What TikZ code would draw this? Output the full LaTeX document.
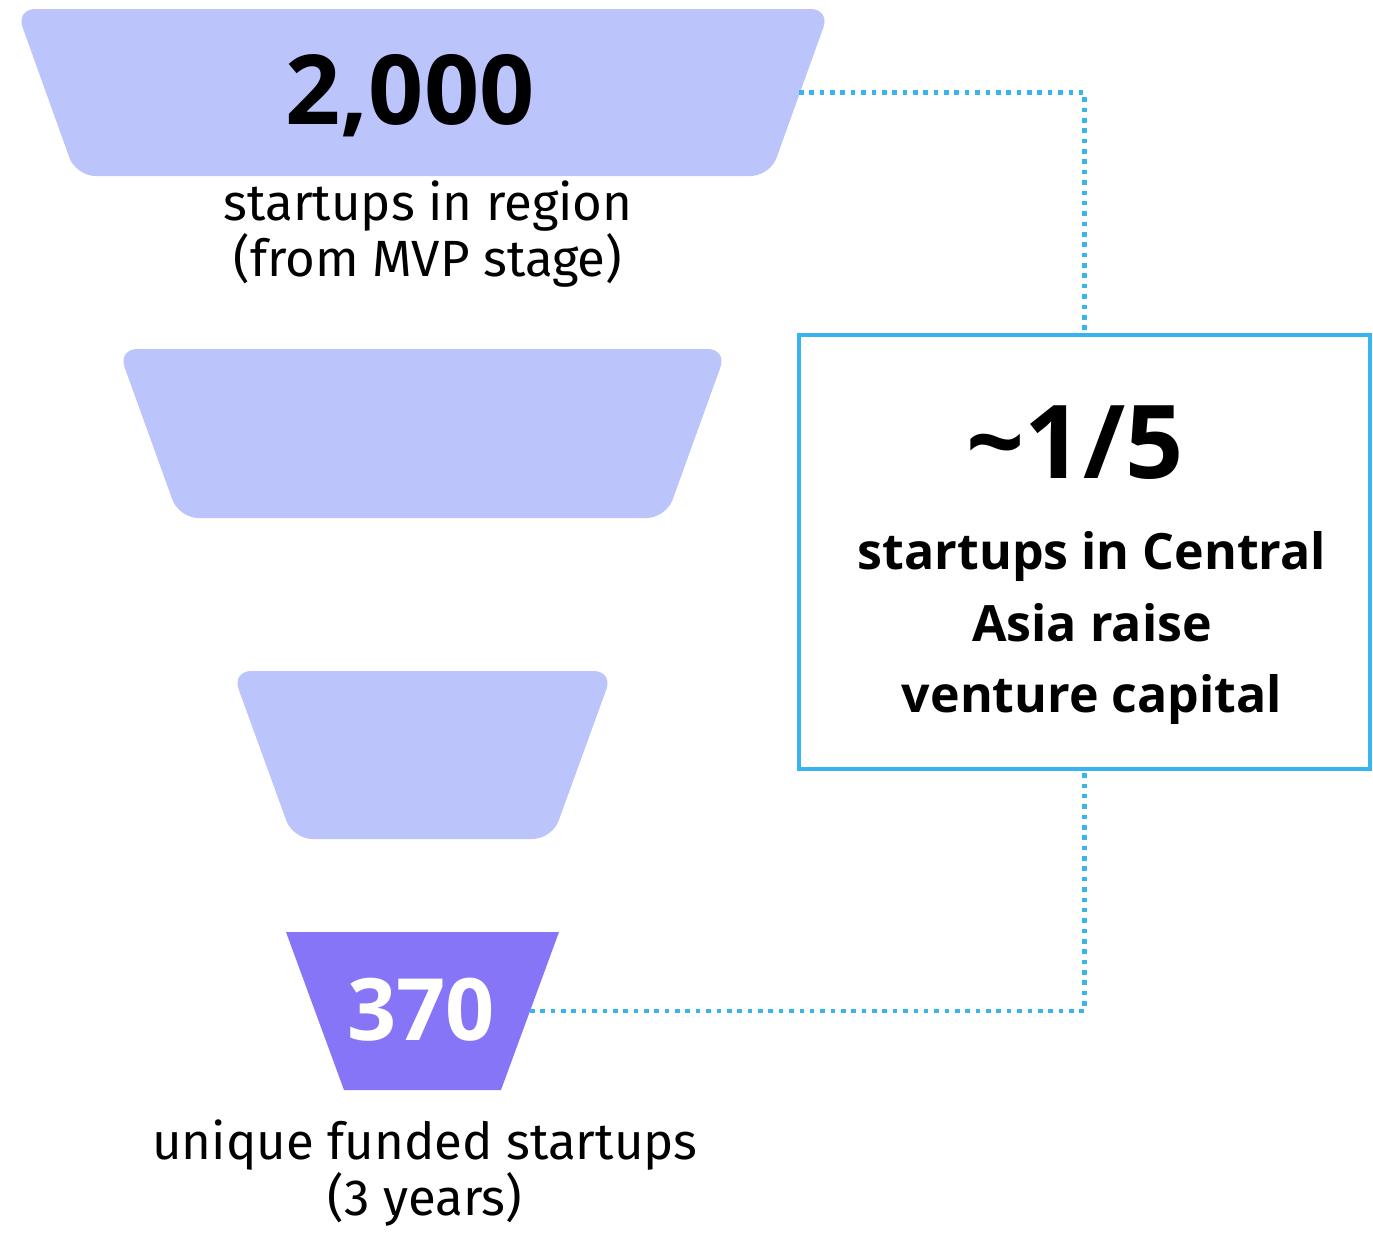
\documentclass[tikz,border=0pt]{standalone}
\usepackage{fontspec}
\setmainfont{Open Sans}
\newfontfamily\labelfont{Fira Sans}
\usetikzlibrary{positioning}
\definecolor{funnellight}{RGB}{187,196,251}
\definecolor{funneldark}{RGB}{134,118,247}
\definecolor{linkblue}{RGB}{58,180,238}
\tikzset{
  funnel/.style={fill=funnellight,rounded corners=11pt},
  bignum/.style={font=\fontsize{55}{55}\selectfont\bfseries,text=black,inner sep=0pt},
  caption/.style={font=\labelfont\fontsize{29}{30}\selectfont,align=center,text=black,inner sep=0pt},
  statbox/.style={draw=linkblue,line width=2pt,fill=white,inner sep=0pt},
  boxtext/.style={font=\fontsize{28.5}{40.5}\selectfont\bfseries,align=center,text=black,inner sep=0pt},
  link/.style={draw=linkblue,line width=2.5pt,dash pattern=on 2.6pt off 3.3pt}
}
\begin{document}
\begin{tikzpicture}[x=0.02cm,y=-0.02cm]
  \useasboundingbox (0,0) rectangle (1373,1232);
  % funnel stages, widest on top
  \fill[funnel] (16,9) -- (830,9) -- (770,176) -- (76,176) -- cycle;
  \fill[funnel] (118,349) -- (727,349) -- (666,518) -- (179,518) -- cycle;
  \fill[funnel] (232,671) -- (613,671) -- (552,839) -- (293,839) -- cycle;
  \fill[funneldark] (286,932) -- (559,932) -- (501,1090) -- (344,1090) -- cycle;
  \coordinate (stage1out) at (799,92.5);
  \coordinate (stage4out) at (530,1011);
  \node[bignum] (total) at (410,96) {2,000};
  \node[bignum,text=white,font=\fontsize{49}{49}\selectfont\bfseries] (funded) at (421,1010) {370};
  \node[caption] (totallab) at (428,234) {startups in region\\(from MVP stage)};
  \node[caption] (fundedlab) at (425,1173) {unique funded startups\\(3 years)};
  % share box
  \node[statbox,minimum width=11.42cm,minimum height=8.68cm] (share) at (1084.5,552) {};
  \node[bignum,font=\fontsize{58}{58}\selectfont\bfseries] (ratio) at (1075,443) {\textasciitilde1/5};
  \node[boxtext] (sharelab) at (1092,628) {startups in Central\\Asia raise\\venture capital};
  \draw[link] (stage1out) -| (share.north);
  \draw[link] (stage4out) -| (share.south);
\end{tikzpicture}
\end{document}
